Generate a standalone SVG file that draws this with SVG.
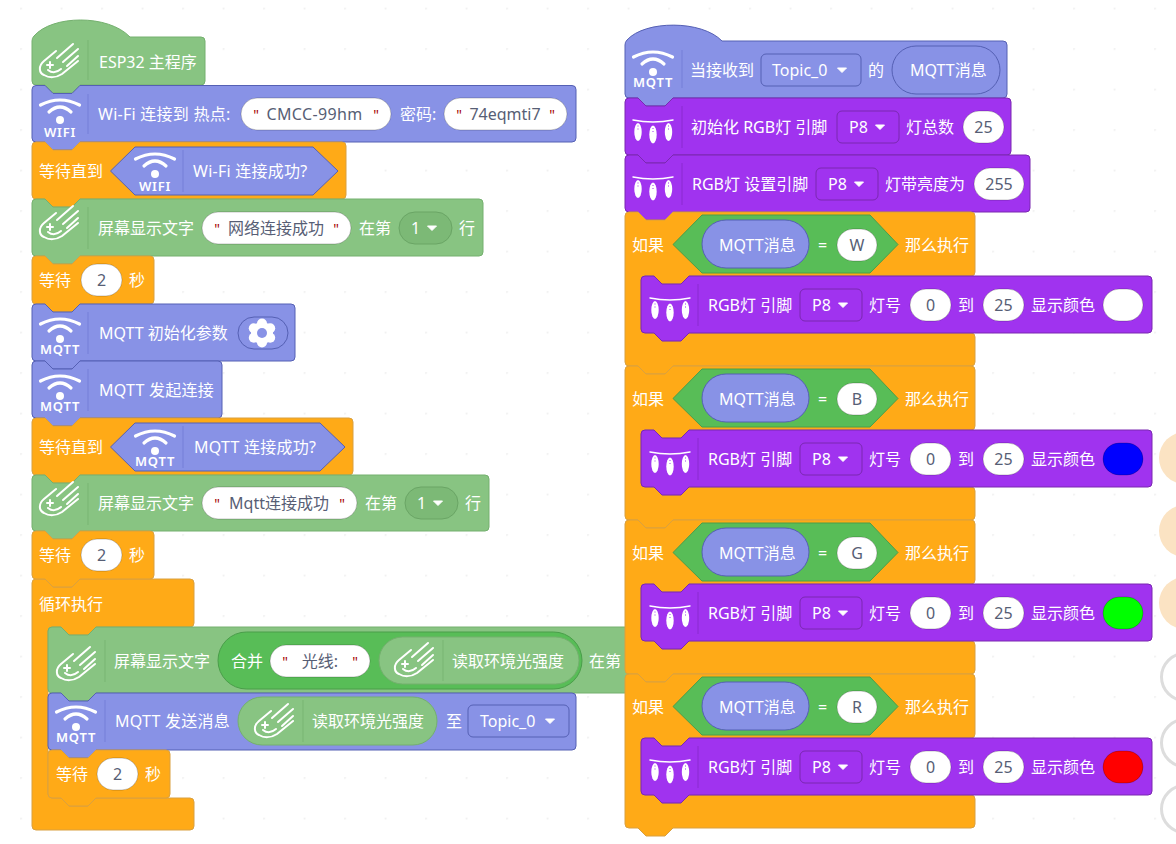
<svg xmlns="http://www.w3.org/2000/svg" width="1176" height="844" viewBox="0 0 1176 844">
<style>
text{font-family:"Noto Sans","Noto Sans CJK SC",sans-serif;font-size:16px;fill:#fff}
.d{fill:#575e75;text-anchor:middle}
.q{fill:#a40000;font-size:14px;text-anchor:middle}
.i{font-size:13px;font-weight:600;text-anchor:middle;letter-spacing:.8px}
.l{letter-spacing:.25px}
.g,.b,.o,.p,.n,.gm{stroke-width:1;stroke-linejoin:round}
.g{fill:#88c482;stroke:#74b06e}
.b{fill:#8892e6;stroke:#5560b4}
.o{fill:#ffaa17;stroke:#d9a040}
.p{fill:#a033ef;stroke:#7a28b0}
.n{fill:#58bd57;stroke:#4a9e4a}
.gm{fill:#7cb976;stroke:#6aa565}
.w{fill:#fff;stroke:rgba(0,0,0,.22);rx:16px}
.r{rx:16px}
.dd{rx:5px}
.sg{stroke:#78b572;stroke-width:1}
.sb{stroke:#747ed8;stroke-width:1}
.sp{stroke:#8a2bd0;stroke-width:1}
.ic{fill:none;stroke:#fff;stroke-linecap:round;stroke-linejoin:round}
</style>
<defs>
<pattern id="dots" x="20.2" y="7.7" width="40.5" height="40.5" patternUnits="userSpaceOnUse"><circle cx="0.8" cy="0.8" r="1" fill="#eeeeee"/></pattern>
<g id="comet" class="ic" stroke-width="2">
<path d="M20 11L8 21C2 26 3 33 8 35C13 38 20 38 26 34L42 21"/>
<path d="M37 4L21 18M42 9L27 22M42 16L31 26"/>
<path d="M14 22v6M11 25h6M12 30Q18 35 25 29"/>
</g>
<g id="wifi">
<path class="ic" stroke-width="3.2" d="M-19.5-15Q0-25 19.5-15"/>
<path class="ic" stroke-width="3.2" d="M-11-8Q0-18 11-8"/>
<circle r="4" fill="#fff"/>
</g>
<g id="lights">
<path class="ic" stroke-width="1.5" d="M3 15Q23 19 43 15"/>
<g fill="#fff">
<ellipse cx="8" cy="27" rx="3.700" ry="9"/><ellipse cx="23" cy="29.500" rx="3.700" ry="9"/><ellipse cx="38.500" cy="27" rx="3.700" ry="9"/>
</g>
<path stroke="#a033ef" stroke-width="1" stroke-dasharray="1 2" d="M8 20.500v5M23 23v5M38.500 20.500v5"/>
</g>
<path id="tri" fill="#fff" stroke="#fff" stroke-width="1" stroke-linejoin="round" d="M-4.500-2h9l-4.500 4.500z"/>
</defs>
<rect width="1176" height="844" fill="#fff"/>
<rect width="1176" height="844" fill="url(#dots)"/>

<g id="side-circles">
<circle cx="1185" cy="458" r="26" fill="#fbe3c3"/>
<circle cx="1185" cy="531" r="26" fill="#fbe3c3"/>
<circle cx="1185" cy="603" r="26" fill="#fbe3c3"/>
<circle cx="1185" cy="677" r="23.500" fill="#fff" stroke="#dddddd" stroke-width="3"/>
<circle cx="1185" cy="743" r="23.500" fill="#fff" stroke="#dddddd" stroke-width="3"/>
<circle cx="1185" cy="809" r="23.500" fill="#fff" stroke="#dddddd" stroke-width="3"/>
</g>

<g id="loop-forever">
<path class="o" d="M32 583q0-4 4-4h9l8 8h19l8-8H190q4 0 4 4V623q0 4-4 4H96l-8 8h-19l-8-8h-9q-4 0-4 4V794q0 4 4 4h9l8 8h19l8-8H190q4 0 4 4V826q0 4-4 4H36q-4 0-4-4z"/>
<text x="39" y="610">循环执行</text>
</g>

<g id="hat-esp32">
<path class="g" d="M32 41q0-3 2-5C52 15 108 14 130 37H201q4 0 4 4V81q0 4-4 4H80l-8 8h-19l-8-8h-9q-4 0-4-4z"/>
<use href="#comet" x="36" y="40"/>
<line class="sg" x1="88" y1="40" x2="88" y2="80"/>
<text x="99" y="68">ESP32 主程序</text>
</g>

<g id="wifi-connect">
<path class="b" d="M32 89.500q0-4 4-4h9l8 8h19l8-8H572q4 0 4 4V138q0 4-4 4H80l-8 8h-19l-8-8h-9q-4 0-4-4z"/>
<use href="#wifi" x="60" y="120"/>
<text class="i" x="60" y="137">WIFI</text>
<line class="sb" x1="88" y1="94" x2="88" y2="134"/>
<text class="l" x="98" y="120">Wi-Fi 连接到 热点:</text>
<rect class="w" x="241" y="98" width="150" height="32"/>
<text class="q" x="256" y="120">"</text><text class="d" x="314.500" y="120" style="letter-spacing:.35px">CMCC-99hm</text><text class="q" x="376" y="120">"</text>
<text x="400" y="120">密码:</text>
<rect class="w" x="444" y="98" width="123" height="32"/>
<text class="q" x="459" y="120">"</text><text class="d" x="505" y="120">74eqmti7</text><text class="q" x="552" y="120">"</text>
</g>

<g id="wait-wifi">
<path class="o" d="M32 146q0-4 4-4h9l8 8h19l8-8H342q4 0 4 4V195q0 4-4 4H80l-8 8h-19l-8-8h-9q-4 0-4-4z"/>
<text x="39" y="177">等待直到</text>
<path class="b" d="M135 147H313L338 171L313 195H135L110.500 171z"/>
<use href="#wifi" x="155" y="174"/>
<text class="i" x="155" y="191">WIFI</text>
<line class="sb" x1="183" y1="150" x2="183" y2="192"/>
<text class="l" x="193" y="177">Wi-Fi 连接成功?</text>
</g>

<g id="display-1">
<path class="g" d="M32 203q0-4 4-4h9l8 8h19l8-8H479q4 0 4 4V252q0 4-4 4H80l-8 8h-19l-8-8h-9q-4 0-4-4z"/>
<use href="#comet" x="36" y="202"/>
<line class="sg" x1="88" y1="207" x2="88" y2="249"/>
<text x="98" y="234">屏幕显示文字</text>
<rect class="w" x="202" y="212" width="149" height="32"/>
<text class="q" x="217" y="234">"</text><text class="d" x="276" y="234">网络连接成功</text><text class="q" x="336" y="234">"</text>
<text x="359" y="234">在第</text>
<rect class="gm r" x="399" y="212" width="53" height="32"/>
<text x="411" y="234">1</text><use href="#tri" x="432" y="228"/>
<text x="459" y="234">行</text>
</g>

<g id="wait-2a">
<path class="o" d="M32 260q0-4 4-4h9l8 8h19l8-8H150q4 0 4 4V300q0 4-4 4H80l-8 8h-19l-8-8h-9q-4 0-4-4z"/>
<text x="39" y="286">等待</text>
<rect class="w" x="81" y="264" width="41" height="32"/>
<text class="d" x="101.500" y="286">2</text>
<text x="129" y="286">秒</text>
</g>

<g id="mqtt-init">
<path class="b" d="M32 308q0-4 4-4h9l8 8h19l8-8H291q4 0 4 4V357q0 4-4 4H80l-8 8h-19l-8-8h-9q-4 0-4-4z"/>
<use href="#wifi" x="60" y="339"/>
<text class="i" x="60" y="354">MQTT</text>
<line class="sb" x1="88" y1="312" x2="88" y2="354"/>
<text x="99" y="339">MQTT 初始化参数</text>
<rect class="b r" x="238" y="317" width="50" height="32"/>
<g fill="#fff">
<circle cx="262" cy="333" r="11"/>
<circle cx="262" cy="323.500" r="5"/><circle cx="262" cy="342.500" r="5"/>
<circle cx="253.800" cy="328.300" r="5"/><circle cx="270.200" cy="328.300" r="5"/>
<circle cx="253.800" cy="337.700" r="5"/><circle cx="270.200" cy="337.700" r="5"/>
</g>
<circle cx="262" cy="333" r="5" fill="#8892e6"/>
</g>

<g id="mqtt-connect">
<path class="b" d="M32 365q0-4 4-4h9l8 8h19l8-8H218q4 0 4 4V414q0 4-4 4H80l-8 8h-19l-8-8h-9q-4 0-4-4z"/>
<use href="#wifi" x="60" y="396"/>
<text class="i" x="60" y="411">MQTT</text>
<line class="sb" x1="88" y1="369" x2="88" y2="411"/>
<text class="l" x="99" y="396">MQTT 发起连接</text>
</g>

<g id="wait-mqtt">
<path class="o" d="M32 422q0-4 4-4h9l8 8h19l8-8H349q4 0 4 4V471q0 4-4 4H80l-8 8h-19l-8-8h-9q-4 0-4-4z"/>
<text x="39" y="453">等待直到</text>
<path class="b" d="M135 423H320L345 447L320 471H135L110.500 447z"/>
<use href="#wifi" x="155" y="451"/>
<text class="i" x="155" y="466">MQTT</text>
<line class="sb" x1="183" y1="426" x2="183" y2="468"/>
<text class="l" x="194" y="453">MQTT 连接成功?</text>
</g>

<g id="display-2">
<path class="g" d="M32 479q0-4 4-4h9l8 8h19l8-8H485q4 0 4 4V527q0 4-4 4H80l-8 8h-19l-8-8h-9q-4 0-4-4z"/>
<use href="#comet" x="36" y="478"/>
<line class="sg" x1="88" y1="483" x2="88" y2="525"/>
<text x="98" y="509">屏幕显示文字</text>
<rect class="w" x="202" y="487" width="155" height="32"/>
<text class="q" x="217" y="509">"</text><text class="d" x="279" y="509">Mqtt连接成功</text><text class="q" x="342" y="509">"</text>
<text x="365" y="509">在第</text>
<rect class="gm r" x="405" y="487" width="53" height="32"/>
<text x="417" y="509">1</text><use href="#tri" x="438" y="503"/>
<text x="465" y="509">行</text>
</g>

<g id="wait-2b">
<path class="o" d="M32 535q0-4 4-4h9l8 8h19l8-8H150q4 0 4 4V575q0 4-4 4H80l-8 8h-19l-8-8h-9q-4 0-4-4z"/>
<text x="39" y="561">等待</text>
<rect class="w" x="81" y="539" width="41" height="32"/>
<text class="d" x="101.500" y="561">2</text>
<text x="129" y="561">秒</text>
</g>

<g id="display-3">
<path class="g" d="M48 631q0-4 4-4h9l8 8h19l8-8H640V693H96l-8 8h-19l-8-8h-9q-4 0-4-4z"/>
<use href="#comet" x="53" y="643"/>
<line class="sg" x1="105" y1="640" x2="105" y2="682"/>
<text x="114" y="667">屏幕显示文字</text>
<rect class="n" x="218" y="632" width="364" height="57" rx="28.500"/>
<text x="231" y="667">合并</text>
<rect class="w" x="270" y="645" width="100" height="32"/>
<text class="q" x="285" y="667">"</text><text class="d" x="320" y="667">光线:</text><text class="q" x="355" y="667">"</text>
<rect class="g" x="379" y="637" width="200" height="47" rx="23.500"/>
<use href="#comet" x="391" y="639"/>
<line class="sg" x1="443" y1="640" x2="443" y2="681"/>
<text x="452" y="667">读取环境光强度</text>
<text x="589" y="667">在第</text>
</g>

<g id="mqtt-send">
<path class="b" d="M48 697q0-4 4-4h9l8 8h19l8-8H572q4 0 4 4V746q0 4-4 4H96l-8 8h-19l-8-8h-9q-4 0-4-4z"/>
<use href="#wifi" x="76" y="727"/>
<text class="i" x="76" y="742">MQTT</text>
<line class="sb" x1="105" y1="700" x2="105" y2="742"/>
<text class="l" x="115" y="727">MQTT 发送消息</text>
<rect class="g" x="238" y="697" width="199" height="48" rx="24"/>
<use href="#comet" x="251" y="700"/>
<line class="sg" x1="303" y1="700" x2="303" y2="742"/>
<text x="312" y="727">读取环境光强度</text>
<text x="446" y="727">至</text>
<rect class="b dd" x="468" y="705" width="101" height="32"/>
<text x="480" y="727">Topic_0</text><use href="#tri" x="550" y="721"/>
</g>

<g id="wait-2c">
<path class="o" d="M48 754q0-4 4-4h9l8 8h19l8-8H166q4 0 4 4V794q0 4-4 4H96l-8 8h-19l-8-8h-9q-4 0-4-4z"/>
<text x="56" y="780">等待</text>
<rect class="w" x="97" y="758" width="41" height="32"/>
<text class="d" x="117.500" y="780">2</text>
<text x="145" y="780">秒</text>
</g>

<g id="hat-mqtt">
<path class="b" d="M625 45q0-3 2-5C645 20 702 20 722 41H1003q4 0 4 4V94q0 4-4 4H673l-8 8h-19l-8-8h-9q-4 0-4-4z"/>
<use href="#wifi" x="653" y="72"/>
<text class="i" x="653" y="87">MQTT</text>
<line class="sb" x1="682" y1="50" x2="682" y2="88"/>
<text x="690" y="76">当接收到</text>
<rect class="b dd" x="761" y="54" width="100" height="32"/>
<text x="772" y="76">Topic_0</text><use href="#tri" x="842" y="70"/>
<text x="868" y="76">的</text>
<rect class="b" x="892" y="46" width="108" height="48" rx="24"/>
<text x="910" y="76">MQTT消息</text>
</g>

<g id="rgb-init">
<path class="p" d="M625 102q0-4 4-4h9l8 8h19l8-8H1007q4 0 4 4V151q0 4-4 4H673l-8 8h-19l-8-8h-9q-4 0-4-4z"/>
<use href="#lights" x="630" y="105"/>
<line class="sp" x1="682" y1="106" x2="682" y2="148"/>
<text x="691" y="133">初始化 RGB灯 引脚</text>
<rect class="p dd" x="837" y="111" width="62" height="32"/>
<text x="849" y="133">P8</text><use href="#tri" x="880" y="127"/>
<text x="906" y="133">灯总数</text>
<rect class="w" x="963" y="111" width="41" height="32"/>
<text class="d" x="983.500" y="133">25</text>
</g>

<g id="rgb-brightness">
<path class="p" d="M625 159q0-4 4-4h9l8 8h19l8-8H1026q4 0 4 4V208q0 4-4 4H673l-8 8h-19l-8-8h-9q-4 0-4-4z"/>
<use href="#lights" x="630" y="162"/>
<line class="sp" x1="682" y1="163" x2="682" y2="205"/>
<text x="692" y="190">RGB灯 设置引脚</text>
<rect class="p dd" x="816" y="168" width="62" height="32"/>
<text x="828" y="190">P8</text><use href="#tri" x="859" y="184"/>
<text x="885" y="190">灯带亮度为</text>
<rect class="w" x="974" y="168" width="50" height="32"/>
<text class="d" x="999" y="190">255</text>
</g>

<g id="if-w">
<path class="o" d="M625 216q0-4 4-4h9l8 8h19l8-8H971q4 0 4 4V272q0 4-4 4H689l-8 8h-19l-8-8h-9q-4 0-4 4V329q0 4 4 4h9l8 8h19l8-8H971q4 0 4 4V362q0 4-4 4H673l-8 8h-19l-8-8h-9q-4 0-4-4z"/>
<text x="632" y="251">如果</text>
<path class="n" d="M702 215H870L898 244.500L870 273H702L673 244.500z"/>
<rect class="b" x="702" y="220" width="107" height="48" rx="24"/>
<text x="719" y="251">MQTT消息</text>
<text x="818" y="251">=</text>
<rect class="w" x="837" y="229" width="40" height="32"/>
<text class="d" x="857" y="251">W</text>
<text x="905" y="251">那么执行</text>
</g>
<g id="rgb-w">
<path class="p" d="M641 280q0-4 4-4h9l8 8h19l8-8H1148q4 0 4 4V329q0 4-4 4H689l-8 8h-19l-8-8h-9q-4 0-4-4z"/>
<use href="#lights" x="647" y="283"/>
<line class="sp" x1="698" y1="284" x2="698" y2="326"/>
<text x="708" y="311">RGB灯 引脚</text>
<rect class="p dd" x="800" y="289" width="62" height="32"/>
<text x="812" y="311">P8</text><use href="#tri" x="843" y="305"/>
<text x="869" y="311">灯号</text>
<rect class="w" x="910" y="289" width="41" height="32"/>
<text class="d" x="930.500" y="311">0</text>
<text x="958" y="311">到</text>
<rect class="w" x="983" y="289" width="41" height="32"/>
<text class="d" x="1003.500" y="311">25</text>
<text x="1031" y="311">显示颜色</text>
<rect class="w" x="1103" y="289" width="40" height="32" style="fill:#ffffff"/>
</g>

<g id="if-b" transform="translate(0,154)">
<path class="o" d="M625 216q0-4 4-4h9l8 8h19l8-8H971q4 0 4 4V272q0 4-4 4H689l-8 8h-19l-8-8h-9q-4 0-4 4V329q0 4 4 4h9l8 8h19l8-8H971q4 0 4 4V362q0 4-4 4H673l-8 8h-19l-8-8h-9q-4 0-4-4z"/>
<text x="632" y="251">如果</text>
<path class="n" d="M702 215H870L898 244.500L870 273H702L673 244.500z"/>
<rect class="b" x="702" y="220" width="107" height="48" rx="24"/>
<text x="719" y="251">MQTT消息</text>
<text x="818" y="251">=</text>
<rect class="w" x="837" y="229" width="40" height="32"/>
<text class="d" x="857" y="251">B</text>
<text x="905" y="251">那么执行</text>
</g>
<g id="rgb-b" transform="translate(0,154)">
<path class="p" d="M641 280q0-4 4-4h9l8 8h19l8-8H1148q4 0 4 4V329q0 4-4 4H689l-8 8h-19l-8-8h-9q-4 0-4-4z"/>
<use href="#lights" x="647" y="283"/>
<line class="sp" x1="698" y1="284" x2="698" y2="326"/>
<text x="708" y="311">RGB灯 引脚</text>
<rect class="p dd" x="800" y="289" width="62" height="32"/>
<text x="812" y="311">P8</text><use href="#tri" x="843" y="305"/>
<text x="869" y="311">灯号</text>
<rect class="w" x="910" y="289" width="41" height="32"/>
<text class="d" x="930.500" y="311">0</text>
<text x="958" y="311">到</text>
<rect class="w" x="983" y="289" width="41" height="32"/>
<text class="d" x="1003.500" y="311">25</text>
<text x="1031" y="311">显示颜色</text>
<rect class="w" x="1103" y="289" width="40" height="32" style="fill:#0000ff"/>
</g>

<g id="if-g" transform="translate(0,308)">
<path class="o" d="M625 216q0-4 4-4h9l8 8h19l8-8H971q4 0 4 4V272q0 4-4 4H689l-8 8h-19l-8-8h-9q-4 0-4 4V329q0 4 4 4h9l8 8h19l8-8H971q4 0 4 4V362q0 4-4 4H673l-8 8h-19l-8-8h-9q-4 0-4-4z"/>
<text x="632" y="251">如果</text>
<path class="n" d="M702 215H870L898 244.500L870 273H702L673 244.500z"/>
<rect class="b" x="702" y="220" width="107" height="48" rx="24"/>
<text x="719" y="251">MQTT消息</text>
<text x="818" y="251">=</text>
<rect class="w" x="837" y="229" width="40" height="32"/>
<text class="d" x="857" y="251">G</text>
<text x="905" y="251">那么执行</text>
</g>
<g id="rgb-g" transform="translate(0,308)">
<path class="p" d="M641 280q0-4 4-4h9l8 8h19l8-8H1148q4 0 4 4V329q0 4-4 4H689l-8 8h-19l-8-8h-9q-4 0-4-4z"/>
<use href="#lights" x="647" y="283"/>
<line class="sp" x1="698" y1="284" x2="698" y2="326"/>
<text x="708" y="311">RGB灯 引脚</text>
<rect class="p dd" x="800" y="289" width="62" height="32"/>
<text x="812" y="311">P8</text><use href="#tri" x="843" y="305"/>
<text x="869" y="311">灯号</text>
<rect class="w" x="910" y="289" width="41" height="32"/>
<text class="d" x="930.500" y="311">0</text>
<text x="958" y="311">到</text>
<rect class="w" x="983" y="289" width="41" height="32"/>
<text class="d" x="1003.500" y="311">25</text>
<text x="1031" y="311">显示颜色</text>
<rect class="w" x="1103" y="289" width="40" height="32" style="fill:#00ff00"/>
</g>

<g id="if-r" transform="translate(0,462)">
<path class="o" d="M625 216q0-4 4-4h9l8 8h19l8-8H971q4 0 4 4V272q0 4-4 4H689l-8 8h-19l-8-8h-9q-4 0-4 4V329q0 4 4 4h9l8 8h19l8-8H971q4 0 4 4V362q0 4-4 4H673l-8 8h-19l-8-8h-9q-4 0-4-4z"/>
<text x="632" y="251">如果</text>
<path class="n" d="M702 215H870L898 244.500L870 273H702L673 244.500z"/>
<rect class="b" x="702" y="220" width="107" height="48" rx="24"/>
<text x="719" y="251">MQTT消息</text>
<text x="818" y="251">=</text>
<rect class="w" x="837" y="229" width="40" height="32"/>
<text class="d" x="857" y="251">R</text>
<text x="905" y="251">那么执行</text>
</g>
<g id="rgb-r" transform="translate(0,462)">
<path class="p" d="M641 280q0-4 4-4h9l8 8h19l8-8H1148q4 0 4 4V329q0 4-4 4H689l-8 8h-19l-8-8h-9q-4 0-4-4z"/>
<use href="#lights" x="647" y="283"/>
<line class="sp" x1="698" y1="284" x2="698" y2="326"/>
<text x="708" y="311">RGB灯 引脚</text>
<rect class="p dd" x="800" y="289" width="62" height="32"/>
<text x="812" y="311">P8</text><use href="#tri" x="843" y="305"/>
<text x="869" y="311">灯号</text>
<rect class="w" x="910" y="289" width="41" height="32"/>
<text class="d" x="930.500" y="311">0</text>
<text x="958" y="311">到</text>
<rect class="w" x="983" y="289" width="41" height="32"/>
<text class="d" x="1003.500" y="311">25</text>
<text x="1031" y="311">显示颜色</text>
<rect class="w" x="1103" y="289" width="40" height="32" style="fill:#ff0000"/>
</g>
</svg>
